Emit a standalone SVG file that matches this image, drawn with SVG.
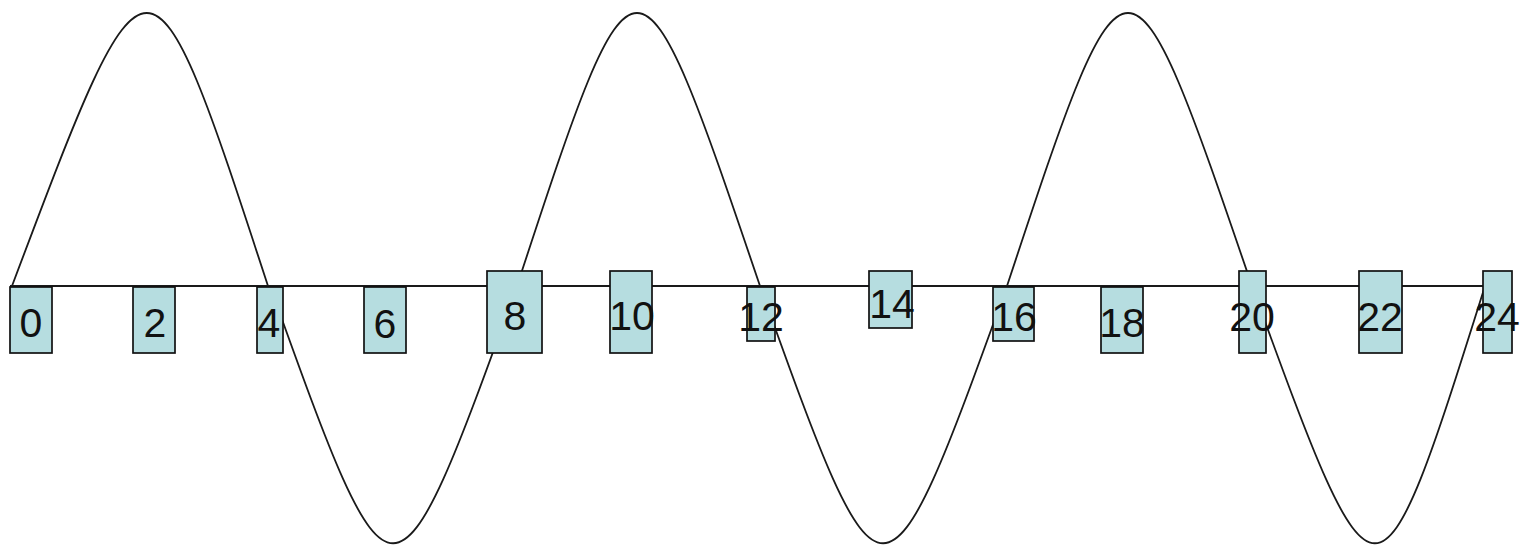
<svg xmlns="http://www.w3.org/2000/svg" width="1520" height="548" viewBox="0 0 1520 548">
<style>
.e{fill:none;stroke:#1a1a1a;stroke-width:1.8}
.n rect{fill:#b6dde0;stroke:#111;stroke-width:1.7}
.n text{font-family:"Liberation Sans",Arial,sans-serif;font-size:41px;fill:#111;text-anchor:middle}
</style>
<rect width="1520" height="548" fill="#fff"/>
<g id="connectors">
<path class="e" d="M10,286 H1484"/>
<path class="e" d="M12,286 C149,-78 149,-78 268,286"/>
<path class="e" d="M270,286 C393,629 393,629 517,286"/>
<path class="e" d="M517,286 C636.5,-78 636.5,-78 760,286"/>
<path class="e" d="M760,286 C883,629 883,629 1007,286"/>
<path class="e" d="M1007,286 C1127.5,-78 1127.5,-78 1252,286"/>
<path class="e" d="M1252,286 C1377,629 1377,629 1485,286"/>
</g>
<g id="n0" class="n"><rect x="10" y="287" width="42" height="66"/><text x="31" y="337">0</text></g>
<g id="n2" class="n"><rect x="133" y="287" width="42" height="66"/><text x="155" y="337">2</text></g>
<g id="n4" class="n"><rect x="257" y="287" width="26" height="66"/><text x="269" y="337">4</text></g>
<g id="n6" class="n"><rect x="364" y="287" width="42" height="66"/><text x="385" y="338">6</text></g>
<g id="n8" class="n"><rect x="487" y="271" width="55" height="82"/><text x="515" y="330">8</text></g>
<g id="n10" class="n"><rect x="610" y="271" width="42" height="82"/><text x="632" y="330">10</text></g>
<g id="n12" class="n"><rect x="747" y="287" width="28" height="54"/><text x="761" y="331">12</text></g>
<g id="n14" class="n"><rect x="869" y="271" width="43" height="57"/><text x="892" y="318">14</text></g>
<g id="n16" class="n"><rect x="993" y="287" width="41" height="54"/><text x="1014" y="331">16</text></g>
<g id="n18" class="n"><rect x="1101" y="287" width="42" height="66"/><text x="1122" y="337">18</text></g>
<g id="n20" class="n"><rect x="1239" y="271" width="27" height="82"/><text x="1252" y="331">20</text></g>
<g id="n22" class="n"><rect x="1359" y="271" width="43" height="82"/><text x="1380" y="331">22</text></g>
<g id="n24" class="n"><rect x="1483" y="271" width="29" height="82"/><text x="1497" y="331">24</text></g>
</svg>
